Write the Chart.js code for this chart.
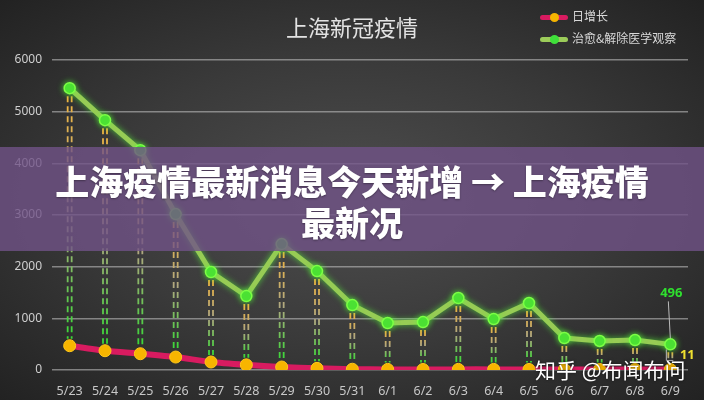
<!DOCTYPE html>
<html>
<head>
<meta charset="utf-8">
<script src="https://cdn.jsdelivr.net/npm/chart.js@4"></script>
<style>
  html, body { margin: 0; padding: 0; }
  #wrap {
    position: relative; width: 704px; height: 400px; overflow: hidden;
    background: radial-gradient(ellipse at 50% 50%, #4e4e4e 0%, #3a3a3a 50%, #222 100%);
    font-family: "Noto Sans CJK SC", "Noto Sans", sans-serif;
  }
  #wrap canvas { position: absolute; left: 0; top: 0; }
  .title { position: absolute; left: 0; width: 704px; top: 10px; text-align: center;
    color: #e2e2e2; font-size: 22px; }
  .legend { position: absolute; left: 540px; top: 6px; color: #d8d8d8; font-size: 12px; }
  .legend div { height: 22px; line-height: 20px; white-space: nowrap; }
  .legend i { display: inline-block; position: relative; width: 28px; height: 5px;
    vertical-align: middle; margin-right: 4px; border-radius: 3px; }
  .legend i b { position: absolute; left: 10px; top: -2px; width: 9px; height: 9px; border-radius: 50%; }
  .banner { position: absolute; left: 0; top: 147px; width: 704px; height: 104px;
    background: rgba(112, 82, 135, 0.8); color: #fff; font-weight: 900; font-size: 34px;
    text-align: center; line-height: 41px; padding-top: 13px; box-sizing: border-box;
    text-shadow: 0 1px 2px rgba(0,0,0,0.35); }
  .mark { position: absolute; left: 535px; top: 354px; color: #fff; font-size: 21px;
    text-shadow: 0 0 3px rgba(0,0,0,0.6); }
</style>
</head>
<body>
<div id="wrap">
  <canvas id="myChart" width="704" height="400"></canvas>
  <div class="title">上海新冠疫情</div>
  <div class="legend">
    <div><i style="background:#d81b60"><b style="background:#f5b400"></b></i>日增长</div>
    <div><i style="background:#9ccc5a"><b style="background:#3fe03a"></b></i>治愈&amp;解除医学观察</div>
  </div>
  <div class="banner">上海疫情最新消息今天新增 → 上海疫情<br>最新况</div>
  <div class="mark">知乎 @布闻布问</div>
</div>
<script>
  // dates on the x axis
  const labels = ['5/23','5/24','5/25','5/26','5/27','5/28','5/29','5/30','5/31',
                  '6/1','6/2','6/3','6/4','6/5','6/6','6/7','6/8','6/9'];

  // 治愈&解除医学观察
  const cured = [5455, 4836, 4255, 3017, 1896, 1431, 2437, 1915, 1257,
                 909, 928, 1393, 986, 1296, 619, 561, 580, 496];

  // 日增长
  const daily = [470, 373, 315, 251, 155, 100, 58, 32, 15,
                 12, 10, 12, 12, 10, 10, 10, 10, 11];

  const yTicks = [0, 1000, 2000, 3000, 4000, 5000, 6000];

  // dashed "||" lines from the green point down to the pink one
  const dropLines = {
    id: 'dropLines',
    beforeDatasetsDraw(chart) {
      const ctx = chart.ctx;
      const g = chart.getDatasetMeta(0).data;
      const p = chart.getDatasetMeta(1).data;
      g.forEach(function(pt, i) {
        const y1 = pt.y + 8, y2 = p[i].y - 7;
        if (y2 <= y1) return;
        const grad = ctx.createLinearGradient(0, y1, 0, y2);
        grad.addColorStop(0, '#f0b440');
        grad.addColorStop(0.5, '#b0a880');
        grad.addColorStop(1, '#38d836');
        ctx.save();
        ctx.strokeStyle = grad;
        ctx.lineWidth = 1.8;
        ctx.setLineDash([6, 4]);
        [-2, 2].forEach(function(dx) {
          ctx.beginPath();
          ctx.moveTo(pt.x + dx, y1);
          ctx.lineTo(pt.x + dx, y2);
          ctx.stroke();
        });
        ctx.restore();
      });
    }
  };

  // glow on the green series
  const glow = {
    id: 'glow',
    beforeDatasetDraw(chart, args) {
      chart.ctx.save();
      if (args.index === 0) {
        chart.ctx.shadowColor = 'rgba(90,255,60,0.7)';
        chart.ctx.shadowBlur = 6;
      }
    },
    afterDatasetDraw(chart) {
      chart.ctx.restore();
    }
  };

  // the two value labels at 6/9
  const lastLabels = {
    id: 'lastLabels',
    afterDatasetsDraw(chart) {
      const ctx = chart.ctx;
      const n = labels.length - 1;
      const g = chart.getDatasetMeta(0).data[n];
      const p = chart.getDatasetMeta(1).data[n];
      ctx.save();
      ctx.strokeStyle = '#bbb';
      ctx.lineWidth = 1;
      ctx.beginPath();
      ctx.moveTo(g.x - 2, g.y - 43);
      ctx.lineTo(g.x, g.y - 6);
      ctx.stroke();
      ctx.beginPath();
      ctx.moveTo(p.x - 4, p.y - 20);
      ctx.lineTo(p.x - 4, p.y - 9);
      ctx.lineTo(p.x + 3, p.y - 9);
      ctx.stroke();
      ctx.font = 'bold 13px "Noto Sans", sans-serif';
      ctx.textAlign = 'center';
      ctx.textBaseline = 'middle';
      ctx.fillStyle = '#2fe02f';
      ctx.fillText(String(cured[n]), g.x + 1, g.y - 51);
      ctx.fillStyle = '#efe030';
      ctx.fillText(String(daily[n]), p.x + 17, p.y - 14);
      ctx.restore();
    }
  };

  const data = {
    labels: labels,
    datasets: [{
      label: '治愈&解除医学观察',
      data: cured,
      borderColor: '#97cc55',
      borderWidth: 5,
      pointRadius: 5.5,
      pointBackgroundColor: '#49dc33',
      pointBorderColor: '#7cff45',
      pointBorderWidth: 1.5,
      tension: 0,
      order: 0
    }, {
      label: '日增长',
      data: daily,
      borderColor: '#d81b60',
      borderWidth: 6,
      pointRadius: 6,
      pointBackgroundColor: '#f7b500',
      pointBorderColor: '#ffc81a',
      pointBorderWidth: 1,
      tension: 0.2,
      order: 1
    }]
  };

  const config = {
    type: 'line',
    data: data,
    options: {
      responsive: false,
      animation: false,
      devicePixelRatio: 1,
      layout: { padding: { top: 60, right: 16, left: 0, bottom: 0 } },
      plugins: { legend: { display: false }, title: { display: false }, tooltip: { enabled: false } },
      scales: {
        x: {
          offset: true,
          grid: { display: false },
          border: { display: false },
          ticks: { color: '#c8c8c8', font: { size: 12.5, family: '"Noto Sans", sans-serif' }, padding: 6 },
          afterFit: function(s) { s.height = 30; }
        },
        y: {
          min: 0,
          max: 6000,
          afterBuildTicks: function(s) { s.ticks = yTicks.map(v => ({ value: v })); },
          grid: { color: 'rgba(200,200,200,0.55)', lineWidth: 1.5, drawTicks: false },
          border: { display: false },
          ticks: {
            color: '#cfcfcf',
            font: { size: 12, family: '"Noto Sans", sans-serif' },
            padding: 10,
            callback: function(v) { return String(v); }
          },
          afterFit: function(s) { s.width = 52; }
        }
      }
    },
    plugins: [dropLines, glow, lastLabels]
  };

  const myChart = new Chart(document.getElementById('myChart'), config);
</script>
</body>
</html>
